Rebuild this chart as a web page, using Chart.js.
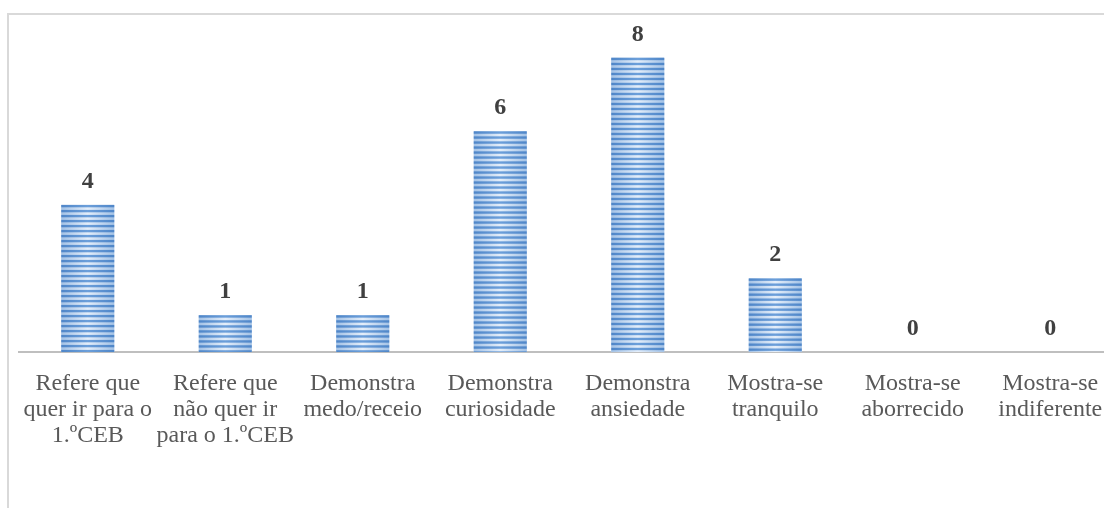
<!DOCTYPE html>
<html>
<head>
    <meta charset="UTF-8">
    <title>Comportamentos</title>
    <script src="https://cdn.jsdelivr.net/npm/chart.js@4.4.1/dist/chart.umd.min.js"></script>
    <style>
        html, body { margin: 0; padding: 0; overflow: hidden; background: #fff; }
        #wrap { position: relative; width: 1125px; height: 508px; }
    </style>
</head>
<body>
    <div id="wrap"><canvas id="myChart"></canvas></div>

    <script>
        const categories = [
            ['Refere que', 'quer ir para o', '1.ºCEB'],
            ['Refere que', 'não quer ir', 'para o 1.ºCEB'],
            ['Demonstra', 'medo/receio'],
            ['Demonstra', 'curiosidade'],
            ['Demonstra', 'ansiedade'],
            ['Mostra-se', 'tranquilo'],
            ['Mostra-se', 'aborrecido'],
            ['Mostra-se', 'indiferente']
        ];
        const counts = [4, 1, 1, 6, 8, 2, 0, 0];

        // light frame around the chart (runs off the right and bottom edges)
        const framePlugin = {
            id: 'frame',
            beforeDraw(chart) {
                const ctx = chart.ctx;
                ctx.save();
                ctx.strokeStyle = '#d9d9d9';
                ctx.lineWidth = 2;
                ctx.strokeRect(8, 14, chart.width + 50, chart.height + 50);
                ctx.restore();
            }
        };

        // striped fill for the bars and the value labels above them
        const stripesPlugin = {
            id: 'stripes',
            afterDatasetsDraw(chart) {
                const ctx = chart.ctx;
                const meta = chart.getDatasetMeta(0);
                ctx.save();
                meta.data.forEach((bar, i) => {
                    const w = bar.width;
                    const left = bar.x - w / 2;
                    const top = bar.y;
                    const bottom = bar.base;
                    if (bottom - top > 0) {
                        const light = ctx.createLinearGradient(left, 0, left + w, 0);
                        light.addColorStop(0, '#a3c2e6');
                        light.addColorStop(0.5, '#e4eefa');
                        light.addColorStop(1, '#a3c2e6');
                        ctx.fillStyle = light;
                        ctx.fillRect(left, top, w, bottom - top);
                        const dark = ctx.createLinearGradient(left, 0, left + w, 0);
                        dark.addColorStop(0, '#4f86c8');
                        dark.addColorStop(0.5, '#6c9fda');
                        dark.addColorStop(1, '#4f86c8');
                        ctx.fillStyle = dark;
                        for (let y = top; y < bottom; y += 5) {
                            ctx.fillRect(left, y, w, Math.min(2.4, bottom - y));
                        }
                    }
                    ctx.fillStyle = '#404040';
                    ctx.font = 'bold 24px "Liberation Serif"';
                    ctx.textAlign = 'center';
                    ctx.textBaseline = 'alphabetic';
                    ctx.fillText(String(counts[i]), bar.x, top - 17);
                });
                ctx.restore();
            }
        };

        const ctx = document.getElementById('myChart').getContext('2d');
        const myChart = new Chart(ctx, {
            type: 'bar',
            data: {
                labels: categories,
                datasets: [{
                    data: counts,
                    backgroundColor: '#bcd3ec',
                    borderWidth: 0,
                    barPercentage: 0.385,
                    categoryPercentage: 1
                }]
            },
            options: {
                responsive: true,
                maintainAspectRatio: false,
                animation: false,
                layout: { padding: { left: 19, right: 6, top: 21, bottom: 40 } },
                plugins: {
                    legend: { display: false },
                    tooltip: { enabled: false }
                },
                scales: {
                    x: {
                        grid: { display: false, drawTicks: false },
                        border: { display: true, color: '#bfbfbf', width: 2 },
                        ticks: {
                            color: '#595959',
                            font: { family: '"Liberation Serif"', size: 24, lineHeight: 1.083 },
                            padding: 19,
                            maxRotation: 0,
                            autoSkip: false
                        }
                    },
                    y: {
                        display: false,
                        min: 0,
                        max: 9
                    }
                }
            },
            plugins: [framePlugin, stripesPlugin]
        });
    </script>
</body>
</html>
